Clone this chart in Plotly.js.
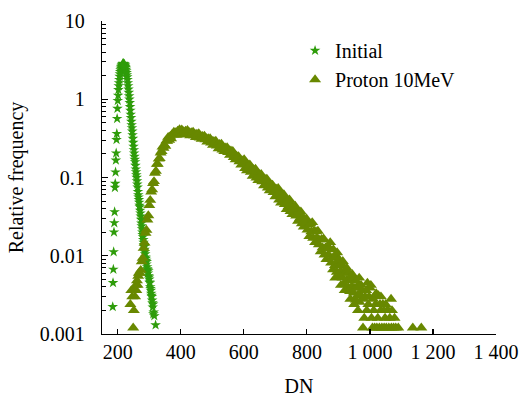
<!DOCTYPE html>
<html>
<head>
<meta charset="utf-8">
<script src="https://cdn.plot.ly/plotly-3.0.1.min.js"></script>
<style>
html,body{margin:0;padding:0;background:#fff;}
#chart{width:521px;height:398px;}
#fontwarm{position:absolute;left:0;top:0;font:20px 'Liberation Serif';color:#fff;opacity:0.01;pointer-events:none;}
</style>
</head>
<body>
<div id="chart"></div>
<div id="fontwarm">0.001 Relative frequency DN Initial Proton 10MeV</div>
<script>
// ---- Data ----
const initialDN = [184,185,186,187,188,189,190,191,192,193,194,195,196,197,198,199,200,201,202,203,204,205,206,207,208,209,210,211,212,213,214,215,216,217,218,219,220,221,222,223,224,225,226,227,228,229,230,231,232,233,234,235,236,237,238,239,240,241,242,243,244,245,246,247,248,249,250,251,252,253,254,255,256,257,258,259,260,261,262,263,264,265,266,267,268,269,270,271,272,273,274,275,276,277,278,279,280,281,282,283,284,285,286,287,288,289,290,291,292,293,294,295,296,297,298,299,300,301,302,303,304,305,306,307,308,309,310,311,312,313,314,316,320];
const initialFreq = [0.00223,0.00451,0.00668,0.0112,0.0200,0.0263,0.0363,0.0743,0.0836,0.117,0.166,0.205,0.304,0.363,0.564,0.76,0.96,1.12,1.32,1.48,1.62,1.78,1.95,2.10,2.24,2.36,2.48,2.56,2.62,2.70,2.74,2.80,2.83,2.86,2.82,2.85,2.78,2.80,2.72,2.70,2.60,2.52,2.40,2.30,2.18,2.05,1.92,1.78,1.62,1.48,1.34,1.22,1.10,1.00,0.90,0.80,0.72,0.64,0.58,0.52,0.47,0.43,0.39,0.35,0.315,0.28,0.25,0.225,0.205,0.185,0.170,0.158,0.142,0.128,0.118,0.108,0.100,0.090,0.082,0.075,0.066,0.060,0.056,0.052,0.048,0.044,0.042,0.038,0.035,0.032,0.029,0.026,0.024,0.022,0.020,0.0185,0.0174,0.016,0.0148,0.0138,0.013,0.012,0.0112,0.0105,0.0096,0.0092,0.0087,0.0078,0.0084,0.0072,0.0068,0.0066,0.0060,0.0064,0.0055,0.0053,0.0050,0.0046,0.0045,0.0040,0.0038,0.0036,0.0033,0.0031,0.0030,0.0027,0.0025,0.0022,0.0024,0.0018,0.0019,0.0017,0.0013];

const protonDN = [240,243,246,249,251,253,255,257,259,261,263,265,267,
270,273,276,279,282,285,288,291,294,297,300,303,306,309,312,315,318,321,324,327,330,333,336,339,342,345,348,351,354,357,360,363,366,369,372,375,378,381,384,387,390,393,396,399,
403,406,409,412,415,418,421,424,427,430,433,436,439,442,445,448,451,454,457,460,463,466,469,472,475,478,481,484,487,490,493,496,499,
502,505,508,511,514,517,520,523,526,529,532,535,538,541,544,547,550,553,556,559,562,565,568,571,574,577,580,583,586,589,592,595,598,
601,604,607,610,613,616,619,622,625,628,631,634,637,640,643,646,649,652,655,658,661,664,667,670,673,676,679,682,685,688,691,694,697,700,
703,706,709,712,715,718,721,724,727,730,733,736,739,742,745,748,751,754,757,760,763,766,769,772,775,778,781,784,787,790,793,796,799,
802,805,808,811,814,817,820,823,826,829,832,835,838,841,844,847,850,853,856,859,862,865,868,871,874,877,880,883,886,889,892,895,898,
901,904,907,910,913,916,919,922,925,928,931,934,937,940,943,946,949,952,955,958,961,964,967,970,
975,978,982,985,990,992,995,1000,1003,1005,1008,1012,1015,1018,1020,1022,1025,1027,1030,1034,1035,1038,1041,1045,1048,1050,1052,1055,1058,1060,1063,1067,1068,1070,1075,1078,1082,1090,1136,1163,
884,890,896,902,908,914,920,926,932,938,944,950,956,962,966,972,980,988,997,1010,1032,1044];
const protonFreq = [0.0024,0.0036,0.0030,0.0012,0.0020,0.0036,0.0030,0.0042,0.0036,0.0048,0.0042,0.0055,0.0060,
0.00598,0.00653,0.00843,0.00933,0.0125,0.0146,0.0195,0.0213,0.0288,0.0326,0.0442,0.0513,0.0656,0.0700,0.0843,0.0891,0.114,0.121,0.148,0.148,0.173,0.175,0.207,0.216,0.247,0.237,0.261,0.251,0.294,0.291,0.327,0.301,0.333,0.315,0.355,0.351,0.381,0.352,0.375,0.349,0.394,0.376,0.410,0.366,
0.408,0.370,0.386,0.354,0.394,0.371,0.401,0.354,0.377,0.344,0.377,0.361,0.382,0.344,0.357,0.326,0.361,0.338,0.364,0.321,0.340,0.310,0.337,0.322,0.339,0.304,0.315,0.286,0.315,0.294,0.315,0.277,0.292,
0.259,0.290,0.274,0.292,0.253,0.265,0.234,0.267,0.244,0.268,0.225,0.243,0.215,0.240,0.226,0.242,0.209,0.219,0.193,0.219,0.198,0.216,0.181,0.193,0.169,0.188,0.175,0.186,0.160,0.166,0.145,0.164,0.149,
0.170,0.131,0.147,0.122,0.144,0.132,0.146,0.117,0.126,0.104,0.127,0.111,0.128,0.0991,0.111,0.0918,0.109,0.0993,0.110,0.0885,0.0951,0.0785,0.0955,0.0832,0.0957,0.0736,0.0824,0.0679,0.0802,0.0729,0.0804,0.0646,0.0692,0.0571,
0.0713,0.0600,0.0728,0.0519,0.0607,0.0473,0.0594,0.0527,0.0605,0.0455,0.0502,0.0392,0.0512,0.0429,0.0520,0.0370,0.0433,0.0337,0.0424,0.0376,0.0431,0.0324,0.0357,0.0278,0.0361,0.0302,0.0365,0.0258,0.0301,0.0234,0.0293,0.0259,0.0296,
0.0214,0.0248,0.0177,0.0257,0.0203,0.0267,0.0168,0.0209,0.0148,0.0203,0.0171,0.0207,0.0139,0.0159,0.0113,0.0162,0.0127,0.0165,0.0103,0.0127,0.00902,0.0123,0.0104,0.0126,0.0148,0.00811,0.00933,0.00664,0.00959,0.00755,0.00986,0.00618,0.00767,
0.00546,0.0075,0.00637,0.0077,0.00521,0.0060,0.00427,0.00617,0.00485,0.00634,0.00397,0.00493,0.00351,0.00482,0.00409,0.00495,0.00335,0.00385,0.00274,0.00396,0.00312,0.00407,0.00255,0.00317,
0.0036,0.0012,0.0016,0.0030,0.0020,0.0045,0.0024,0.0039,0.0042,0.0016,0.0012,0.0020,0.0012,0.0024,0.0033,0.0012,0.0016,0.0031,0.0012,0.0020,0.0030,0.0012,0.0024,0.0012,0.0016,0.0024,0.0012,0.0020,0.0020,0.0012,0.0016,0.0028,0.0012,0.0020,0.0012,0.0016,0.0012,0.0012,0.0012,0.0012,
0.0120,0.0052,0.0110,0.0090,0.0042,0.0085,0.0036,0.0070,0.0060,0.0028,0.0058,0.0024,0.0048,0.0020,0.0052,0.0042,0.0028,0.0036,0.0030,0.0028,0.0024,0.0020];

const seriesNames = ['Initial', 'Proton 10MeV'];
const xTickVals = [200, 400, 600, 800, 1000, 1200, 1400];
const xTickText = ['200', '400', '600', '800', '1 000', '1 200', '1 400'];
const yTickVals = [0.001, 0.01, 0.1, 1, 10];
const yTickText = ['0.001', '0.01', '0.1', '1', '10'];

const yMinor = [];
[0.001, 0.01, 0.1, 1].forEach(d => { for (let k = 2; k <= 9; k++) yMinor.push(d * k); });

const FONT = 'Liberation Serif';
const fnt = () => ({ family: FONT, size: 20, color: '#000' });

const traces = [
  { x: initialDN, y: initialFreq, name: seriesNames[0], type: 'scatter', mode: 'markers',
    marker: { symbol: 'star', size: 8, color: '#2E9C0A' } },
  { x: protonDN, y: protonFreq, name: seriesNames[1], type: 'scatter', mode: 'markers',
    marker: { symbol: 'triangle-up', size: 10.5, color: '#688800' } }
];

const layout = {
  width: 521, height: 398,
  margin: { l: 102, r: 25, t: 21, b: 64 },
  paper_bgcolor: '#fff', plot_bgcolor: '#fff',
  font: fnt(),
  showlegend: true,
  legend: { x: 0.49, xanchor: 'left', y: 0.968, yanchor: 'top', bgcolor: 'rgba(0,0,0,0)', font: fnt(), tracegroupgap: 0 },
  xaxis: {
    range: [150, 1400], showgrid: false, zeroline: false,
    showline: true, linecolor: '#000', linewidth: 1.3,
    ticks: 'inside', ticklen: 5, tickwidth: 1.2, tickcolor: '#000',
    tickmode: 'array', tickvals: xTickVals, ticktext: xTickText,
    tickfont: fnt(),
    title: { text: 'DN', font: fnt(), standoff: 16 }
  },
  yaxis: {
    type: 'log', range: [-3, 1], showgrid: false, zeroline: false,
    showline: true, linecolor: '#000', linewidth: 1.3,
    ticks: 'inside', ticklen: 6, tickwidth: 1.2, tickcolor: '#000',
    tickmode: 'array', tickvals: yTickVals, ticktext: yTickText,
    tickfont: fnt(),
    ticklabelstandoff: 12,
    minor: { tickmode: 'array', tickvals: yMinor, ticks: 'inside', ticklen: 3.5, tickwidth: 1, tickcolor: '#000' },
    title: { text: 'Relative frequency', font: fnt(), standoff: 10 }
  }
};

const warm = document.getElementById('fontwarm');
Plotly.newPlot('chart', traces, layout, { displayModeBar: false, staticPlot: true }).then(() => {
  // force a repaint once the serif font is available
  warm.textContent = 'DN';
  const redo = () => Plotly.relayout('chart', { 'font.family': FONT }).then(() => { warm.textContent = ''; });
  if (document.fonts && document.fonts.load) {
    document.fonts.load('20px "Liberation Serif"').then(redo, redo);
  } else {
    redo();
  }
});
</script>
</body>
</html>
